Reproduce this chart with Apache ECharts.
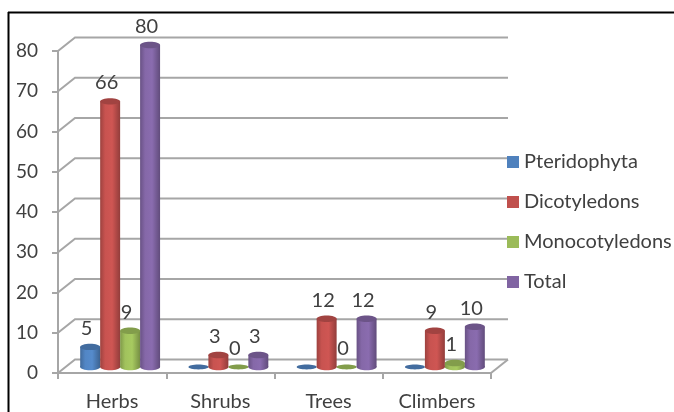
<!DOCTYPE html>
<html>
<head>
<meta charset="utf-8">
<style>
html, body { margin: 0; padding: 0; background: #fff; }
#chart { width: 674px; height: 412px; }
</style>
<script src="https://cdn.jsdelivr.net/npm/echarts@6/dist/echarts.min.js"></script>
</head>
<body>
<div id="chart"></div>
<script>
const categories = ['Herbs', 'Shrubs', 'Trees', 'Climbers'];
const pteridophyta = [5, 0, 0, 0];
const pteridophytaLabels = ['5', '', '', ''];
const dicotyledons = [66, 3, 12, 9];
const dicotyledonsLabels = ['66', '3', '12', '9'];
const monocotyledons = [9, 0, 0, 1];
const monocotyledonsLabels = ['9', '0', '0', '1'];
const total = [80, 3, 12, 10];
const totalLabels = ['80', '3', '12', '10'];
const yTicks = [0, 10, 20, 30, 40, 50, 60, 70, 80];

const TEXT = '#404040';
const WALL = '#a6a6a6';
const FONT = 'Lato, "Open Sans", sans-serif';
const DEPTH_X = 17, DEPTH_Y = 13.5;     // back wall offset from the front axis plane
const BAR_SHIFT_X = 8, BAR_SHIFT_Y = 6; // cylinders stand mid-way on the floor
const BAR_RATIO = 0.1845;

function shade(hex, f) {
  const n = parseInt(hex.slice(1), 16);
  const ch = s => Math.round(Math.min(255, ((n >> s) & 255) * f));
  return `rgb(${ch(16)},${ch(8)},${ch(0)})`;
}

// One cylinder: body, rounded foot and darker elliptical cap, plus its value label.
function cylinderRenderer(slot, base) {
  return function (params, api) {
    const idx = api.value(0);
    const val = api.value(1);
    const label = series[slot].labels[idx];
    const band = api.size([1, 0])[0];
    const w = band * BAR_RATIO;
    const rx = w / 2, ry = val === 0 ? 2.4 : 3.2;
    const foot = api.coord([idx, 0]);
    const head = api.coord([idx, val]);
    const cx = foot[0] + (slot - 1.5) * w + BAR_SHIFT_X;
    const yBase = foot[1] - BAR_SHIFT_Y;
    const yTop = head[1] - BAR_SHIFT_Y;
    const body = {
      type: 'linearGradient', x: 0, y: 0, x2: 1, y2: 0,
      colorStops: [
        { offset: 0, color: shade(base, 0.82) },
        { offset: 0.25, color: shade(base, 1.04) },
        { offset: 0.6, color: shade(base, 1.08) },
        { offset: 1, color: shade(base, 0.76) }
      ]
    };
    const children = [];
    if (val > 0) {
      children.push(
        { type: 'ellipse', shape: { cx, cy: yBase, rx, ry }, style: { fill: body } },
        { type: 'rect', shape: { x: cx - rx, y: yTop, width: w, height: yBase - yTop }, style: { fill: body } }
      );
    }
    children.push({ type: 'ellipse', shape: { cx, cy: yTop, rx, ry }, style: { fill: shade(base, 0.84) } });
    if (label) {
      children.push({
        type: 'text',
        style: {
          x: cx - 3.5, y: yTop - 18.5, text: label,
          font: '20px ' + FONT, fill: TEXT, align: 'center', verticalAlign: 'middle'
        },
        z2: 10
      });
    }
    return { type: 'group', children };
  };
}

const series = [
  { name: 'Pteridophyta', values: pteridophyta, labels: pteridophytaLabels, color: '#4f81bd' },
  { name: 'Dicotyledons', values: dicotyledons, labels: dicotyledonsLabels, color: '#c0504d' },
  { name: 'Monocotyledons', values: monocotyledons, labels: monocotyledonsLabels, color: '#9bbb59' },
  { name: 'Total', values: total, labels: totalLabels, color: '#8064a2' }
];

// Back wall gridlines with the slanted floor connector, and the floor's right edge.
function wallRenderer(params, api) {
  const v = api.value(0);
  const left = api.coord([0, v]);
  const band = api.size([1, 0])[0];
  const x0 = left[0] - band / 2;
  const x1 = x0 + band * categories.length;
  const y = left[1];
  const children = [{
    type: 'polyline',
    shape: { points: [[x0, y], [x0 + DEPTH_X, y - DEPTH_Y], [x1 + DEPTH_X, y - DEPTH_Y]] },
    style: { stroke: WALL, lineWidth: 2, fill: null }
  }];
  if (v === 0) {
    children.push({
      type: 'line',
      shape: { x1: x1, y1: y, x2: x1 + DEPTH_X, y2: y - DEPTH_Y },
      style: { stroke: WALL, lineWidth: 2 }
    });
  }
  return { type: 'group', children };
}

const chart = echarts.init(document.getElementById('chart'), null, { renderer: 'canvas' });
chart.setOption({
  animation: false,
  backgroundColor: '#fff',
  textStyle: { fontFamily: FONT },
  grid: { left: 58, right: 183, top: 51, bottom: 37.5 },
  legend: {
    orient: 'vertical', left: 507, top: 152, padding: 0,
    itemWidth: 12, itemHeight: 12, itemGap: 20,
    icon: 'rect', selectedMode: false,
    textStyle: { color: TEXT, fontSize: 20, fontFamily: FONT },
    data: series.map(s => s.name)
  },
  xAxis: {
    type: 'category', data: categories, boundaryGap: true,
    axisLine: { lineStyle: { color: WALL, width: 2 } },
    axisTick: { show: true, alignWithLabel: false, length: 6, lineStyle: { color: WALL, width: 2 } },
    axisLabel: { color: TEXT, fontSize: 20, margin: 19, fontFamily: FONT }
  },
  yAxis: {
    type: 'value', min: 0, max: 80, interval: 10,
    axisLine: { show: true, lineStyle: { color: WALL, width: 2 } },
    axisTick: { show: true, length: 6, lineStyle: { color: WALL, width: 2 } },
    splitLine: { show: false },
    axisLabel: { color: TEXT, fontSize: 19, margin: 20, fontFamily: FONT, padding: [3, 0, 0, 0] }
  },
  graphic: [
    { type: 'line', shape: { x1: 8, y1: 12.5, x2: 674, y2: 12.5 }, style: { stroke: '#000', lineWidth: 2 }, silent: true },
    { type: 'line', shape: { x1: 8.5, y1: 12, x2: 8.5, y2: 412 }, style: { stroke: '#000', lineWidth: 2 }, silent: true }
  ],
  series: [
    {
      type: 'custom', name: 'wall', silent: true, z: 1,
      data: yTicks.map(v => [v]),
      encode: { y: 0 },
      renderItem: wallRenderer,
      clip: false
    }
  ].concat(series.map((s, slot) => ({
    type: 'custom',
    name: s.name,
    z: 3,
    itemStyle: { color: s.color },
    data: s.values.map((v, i) => [i, v]),
    encode: { x: 0, y: 1 },
    renderItem: cylinderRenderer(slot, s.color),
    clip: false
  })))
});
</script>
</body>
</html>
